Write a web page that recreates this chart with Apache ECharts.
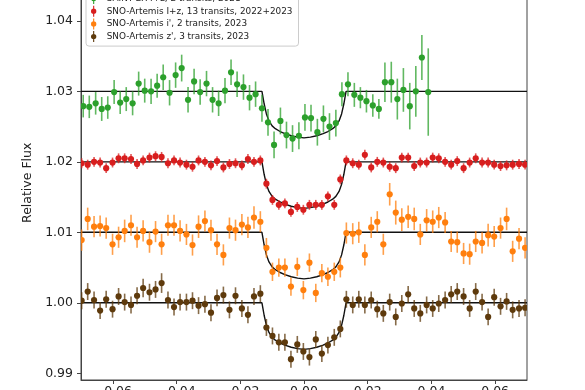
<!DOCTYPE html>
<html><head><meta charset="utf-8">
<script src="https://cdn.jsdelivr.net/npm/echarts@6/dist/echarts.min.js"></script>
<style>html,body{margin:0;padding:0;background:#fff}#c{width:585px;height:390px}</style>
</head><body><div id="c"></div>
<script>
const seriesNames = [
  "SAINT-EX I+z, 2 transits, 2021",
  "SNO-Artemis I+z, 13 transits, 2022+2023",
  "SNO-Artemis i', 2 transits, 2023",
  "SNO-Artemis z', 3 transits, 2023"
];
const xTicks = [-0.06, -0.04, -0.02, 0.00, 0.02, 0.04, 0.06];
const yTicks = [0.99, 1.00, 1.01, 1.02, 1.03, 1.04];

const xGreen = [-0.0693,-0.0674,-0.0654,-0.0635,-0.0616,-0.0596,-0.0577,-0.0558,-0.0538,-0.0519,
 -0.0500,-0.0480,-0.0461,-0.0442,-0.0422,-0.0403,-0.0384,-0.0364,-0.0345,-0.0326,
 -0.0306,-0.0287,-0.0268,-0.0248,-0.0229,-0.0210,-0.0190,-0.0171,-0.0152,-0.0132,
 -0.0113,-0.0094,-0.0074,-0.0055,-0.0036,-0.0016,0.0003,0.0022,0.0042,0.0061,
 0.0080,0.0100,0.0119,0.0138,0.0158,0.0177,0.0196,0.0216,0.0235,0.0254,
 0.0274,0.0293,0.0312,0.0332,0.0351,0.0370,0.0390];
const fluxGreen = [1.0279,1.0278,1.0283,1.0275,1.0277,1.0299,1.0284,1.0289,1.0283,1.0311,
 1.0301,1.0300,1.0308,1.0320,1.0298,1.0323,1.0333,1.0288,1.0314,1.0299,
 1.0311,1.0288,1.0283,1.0301,1.0327,1.0310,1.0306,1.0291,1.0296,1.0276,
 1.0256,1.0224,1.0258,1.0238,1.0233,1.0237,1.0263,1.0262,1.0242,1.0261,
 1.0250,1.0255,1.0296,1.0310,1.0295,1.0291,1.0286,1.0280,1.0275,1.0313,
 1.0313,1.0289,1.0302,1.0279,1.0300,1.0348,1.0299];
const errGreen = [0.0016,0.0016,0.0016,0.0017,0.0016,0.0017,0.0016,0.0017,0.0017,0.0017,
 0.0017,0.0018,0.0017,0.0018,0.0018,0.0018,0.0019,0.0018,0.0018,0.0018,
 0.0018,0.0018,0.0018,0.0018,0.0018,0.0018,0.0018,0.0018,0.0018,0.0019,
 0.0019,0.0019,0.0019,0.0019,0.0019,0.0019,0.0019,0.0019,0.0019,0.0019,
 0.0019,0.0019,0.0017,0.0017,0.0017,0.0015,0.0016,0.0016,0.0014,0.0028,
 0.0029,0.0029,0.0031,0.0033,0.0036,0.0032,0.0062];

const xBins = [-0.0698,-0.0679,-0.0659,-0.0640,-0.0621,-0.0601,-0.0582,-0.0563,-0.0543,-0.0524,
 -0.0505,-0.0485,-0.0466,-0.0447,-0.0427,-0.0408,-0.0389,-0.0369,-0.0350,-0.0331,
 -0.0311,-0.0292,-0.0273,-0.0253,-0.0234,-0.0215,-0.0195,-0.0176,-0.0157,-0.0137,
 -0.0118,-0.0099,-0.0079,-0.0060,-0.0041,-0.0021,-0.0002,0.0017,0.0037,0.0056,
 0.0075,0.0095,0.0114,0.0133,0.0153,0.0172,0.0191,0.0211,0.0230,0.0249,
 0.0269,0.0288,0.0307,0.0327,0.0346,0.0365,0.0385,0.0404,0.0423,0.0443,
 0.0462,0.0481,0.0501,0.0520,0.0539,0.0559,0.0578,0.0597,0.0617,0.0636,
 0.0655,0.0675,0.0694];

const fluxRed = [1.0198,1.0196,1.0200,1.0199,1.0191,1.0199,1.0205,1.0205,1.0204,1.0197,
 1.0202,1.0206,1.0208,1.0207,1.0198,1.0202,1.0199,1.0196,1.0193,1.0202,
 1.0200,1.0195,1.0201,1.0192,1.0197,1.0198,1.0195,1.0204,1.0200,1.0202,
 1.0169,1.0146,1.0139,1.0141,1.0129,1.0136,1.0132,1.0139,1.0139,1.0139,
 1.0151,1.0139,1.0175,1.0202,1.0198,1.0196,1.0210,1.0192,1.0200,1.0199,
 1.0193,1.0191,1.0206,1.0206,1.0194,1.0199,1.0199,1.0206,1.0205,1.0200,
 1.0196,1.0201,1.0191,1.0199,1.0205,1.0199,1.0199,1.0196,1.0194,1.0195,
 1.0196,1.0197,1.0196];
const errRed = [0.0007,0.0007,0.0007,0.0007,0.0007,0.0007,0.0007,0.0007,0.0007,0.0007,
 0.0007,0.0007,0.0007,0.0007,0.0007,0.0007,0.0007,0.0007,0.0007,0.0007,
 0.0007,0.0007,0.0007,0.0007,0.0007,0.0007,0.0007,0.0007,0.0007,0.0007,
 0.0007,0.0007,0.0007,0.0007,0.0007,0.0007,0.0007,0.0007,0.0007,0.0007,
 0.0007,0.0007,0.0007,0.0007,0.0007,0.0007,0.0007,0.0007,0.0007,0.0007,
 0.0007,0.0007,0.0007,0.0007,0.0007,0.0007,0.0007,0.0007,0.0007,0.0007,
 0.0007,0.0007,0.0007,0.0007,0.0007,0.0007,0.0007,0.0007,0.0007,0.0007,
 0.0007,0.0007,0.0007];

const fluxOrange = [1.0089,1.0119,1.0108,1.0109,1.0106,1.0083,1.0093,1.0102,1.0110,1.0093,
 1.0102,1.0086,1.0101,1.0083,1.0110,1.0110,1.0102,1.0097,1.0082,1.0108,
 1.0116,1.0103,1.0083,1.0068,1.0106,1.0103,1.0111,1.0107,1.0121,1.0115,
 1.0078,1.0044,1.0050,1.0050,1.0023,1.0051,1.0018,1.0057,1.0014,1.0042,
 1.0037,1.0044,1.0050,1.0099,1.0098,1.0100,1.0068,1.0107,1.0115,1.0083,
 1.0154,1.0128,1.0118,1.0122,1.0119,1.0097,1.0117,1.0115,1.0121,1.0114,
 1.0087,1.0086,1.0070,1.0069,1.0087,1.0085,1.0096,1.0094,1.0106,1.0119,
 1.0073,1.0091,1.0078];
const errOrange = [0.0015,0.0016,0.0015,0.0015,0.0015,0.0015,0.0015,0.0016,0.0015,0.0015,
 0.0015,0.0015,0.0015,0.0015,0.0015,0.0015,0.0015,0.0015,0.0015,0.0016,
 0.0015,0.0015,0.0015,0.0015,0.0015,0.0015,0.0015,0.0015,0.0016,0.0015,
 0.0014,0.0013,0.0013,0.0013,0.0013,0.0013,0.0013,0.0013,0.0013,0.0013,
 0.0013,0.0013,0.0014,0.0015,0.0015,0.0015,0.0015,0.0015,0.0015,0.0015,
 0.0016,0.0017,0.0016,0.0016,0.0016,0.0015,0.0016,0.0016,0.0015,0.0015,
 0.0015,0.0015,0.0015,0.0015,0.0015,0.0015,0.0016,0.0015,0.0015,0.0016,
 0.0015,0.0015,0.0015];

const fluxBrown = [1.0003,1.0016,1.0004,0.9989,1.0005,0.9991,1.0009,1.0001,0.9997,1.0010,
 1.0021,1.0015,1.0019,1.0028,1.0004,0.9994,1.0001,1.0001,1.0003,0.9996,
 0.9998,0.9986,1.0007,1.0011,0.9990,1.0010,0.9992,0.9983,1.0009,1.0013,
 0.9965,0.9953,0.9944,0.9944,0.9920,0.9941,0.9931,0.9923,0.9948,0.9928,
 0.9940,0.9951,0.9963,1.0005,0.9997,1.0005,0.9997,1.0004,0.9991,0.9985,
 1.0001,0.9980,0.9999,1.0012,0.9992,0.9985,0.9997,0.9992,0.9999,1.0004,
 1.0012,1.0016,1.0009,0.9992,1.0016,1.0001,0.9980,1.0008,0.9995,1.0002,
 0.9990,0.9992,0.9993];
const errBrown = [0.0012,0.0012,0.0012,0.0012,0.0012,0.0012,0.0012,0.0012,0.0012,0.0012,
 0.0013,0.0012,0.0012,0.0014,0.0012,0.0012,0.0012,0.0012,0.0012,0.0012,
 0.0012,0.0012,0.0012,0.0012,0.0012,0.0012,0.0012,0.0012,0.0012,0.0012,
 0.0012,0.0012,0.0012,0.0012,0.0012,0.0012,0.0012,0.0012,0.0012,0.0012,
 0.0012,0.0012,0.0012,0.0012,0.0012,0.0012,0.0012,0.0012,0.0012,0.0012,
 0.0012,0.0012,0.0012,0.0012,0.0012,0.0012,0.0012,0.0012,0.0012,0.0012,
 0.0012,0.0012,0.0012,0.0012,0.0012,0.0012,0.0012,0.0012,0.0012,0.0012,
 0.0012,0.0012,0.0012];

// transit model curves
const modelX = [-0.07,-0.0132,-0.0125,-0.0118,-0.0110,-0.0100,-0.0090,-0.0075,-0.0060,-0.0040,-0.0020,0.0,
  0.0020,0.0040,0.0060,0.0075,0.0090,0.0100,0.0110,0.0118,0.0125,0.0132,0.07];
const modelGreen = [1.0300,1.0300,1.0282,1.0268,1.0258,1.0251,1.0247,1.0243,1.0240,1.0237,1.0235,1.0234,
  1.0235,1.0237,1.0240,1.0243,1.0247,1.0251,1.0258,1.0268,1.0282,1.0300,1.0300];
const modelRed = [1.0200,1.0200,1.0182,1.0168,1.0158,1.0151,1.0147,1.0143,1.0140,1.0137,1.0135,1.0134,
  1.0135,1.0137,1.0140,1.0143,1.0147,1.0151,1.0158,1.0168,1.0182,1.0200,1.0200];
const modelOrange = [1.0100,1.0100,1.0082,1.0068,1.0058,1.0051,1.0047,1.0043,1.0040,1.0037,1.0035,1.0034,
  1.0035,1.0037,1.0040,1.0043,1.0047,1.0051,1.0058,1.0068,1.0082,1.0100,1.0100];
const modelBrown = [1.0000,1.0000,0.9982,0.9968,0.9958,0.9951,0.9947,0.9943,0.9940,0.9937,0.9935,0.9934,
  0.9935,0.9937,0.9940,0.9943,0.9947,0.9951,0.9958,0.9968,0.9982,1.0000,1.0000];

const colors = ['#2ca02c', '#d81e1e', '#ff7f0e', '#5e3a0c'];

function pointSeries(name, xs, ys, es, color) {
  return {
    name: name, type: 'custom', clip: true, z: 3,
    itemStyle: { color: color },
    encode: { x: 0, y: 1 },
    data: xs.map((x, i) => [x, ys[i], es[i]]),
    renderItem: function (params, api) {
      const x = api.value(0), y = api.value(1), e = api.value(2);
      const p = api.coord([x, y]);
      const top = api.coord([x, y + e]);
      const bot = api.coord([x, y - e]);
      return {
        type: 'group',
        children: [
          { type: 'line', shape: { x1: p[0], y1: top[1], x2: p[0], y2: bot[1] },
            style: { stroke: color, lineWidth: 1.6, opacity: 0.75 } },
          { type: 'circle', shape: { cx: p[0], cy: p[1], r: 3.1 },
            style: { fill: color } }
        ]
      };
    }
  };
}
function modelSeries(ys) {
  return {
    type: 'line', silent: true, z: 2, showSymbol: false, symbol: 'none',
    data: modelX.map((x, i) => [x, ys[i]]),
    lineStyle: { color: '#111', width: 1.4 }
  };
}

const chart = echarts.init(document.getElementById('c'), null, { renderer: 'canvas' });
const axisColor = '#444';
chart.setOption({
  animation: false,
  backgroundColor: '#fff',
  grid: { left: 81, right: 58, top: -14.4, bottom: 10, show: true, borderColor: axisColor, borderWidth: 1,
    backgroundColor: 'transparent', containLabel: false, outerBoundsMode: 'none' },
  xAxis: {
    type: 'value', min: -0.07, max: 0.07,
    axisLine: { show: true, onZero: false, lineStyle: { color: axisColor, width: 1 } },
    axisTick: { show: true, length: 4, customValues: xTicks, lineStyle: { color: axisColor } },
    axisLabel: { customValues: xTicks, margin: 5, fontSize: 12.5, color: '#222', fontFamily: 'DejaVu Sans',
      formatter: v => v.toFixed(2).replace('-', '\u2212') },
    splitLine: { show: false }
  },
  yAxis: {
    type: 'value', min: 0.98905, max: 1.045,
    name: 'Relative Flux', nameLocation: 'middle', nameGap: 34,
    nameTextStyle: { fontSize: 12.5, color: '#222', fontFamily: 'DejaVu Sans' },
    axisLine: { show: true, onZero: false, lineStyle: { color: axisColor, width: 1 } },
    axisTick: { show: true, length: 4, customValues: yTicks, lineStyle: { color: axisColor } },
    axisLabel: { customValues: yTicks, margin: 8, fontSize: 12.5, color: '#222', fontFamily: 'DejaVu Sans',
      formatter: v => v.toFixed(2) },
    splitLine: { show: false }
  },
  legend: {
    data: seriesNames, orient: 'vertical', left: 86, top: -12, selectedMode: false,
    padding: [5, 6, 4, 5], itemGap: 1.7, itemWidth: 16, itemHeight: 11,
    icon: 'path://M4.3,0H5.7V14H4.3Z M5,3.6A3.4,3.4 0 1,1 4.99,3.6Z',
    backgroundColor: '#fff', borderColor: '#cccccc', borderWidth: 1, borderRadius: 3,
    textStyle: { fontSize: 8.9, lineHeight: 11, color: '#222', fontFamily: 'DejaVu Sans' }
  },
  series: [
    pointSeries(seriesNames[0], xGreen, fluxGreen, errGreen, colors[0]),
    pointSeries(seriesNames[1], xBins, fluxRed, errRed, colors[1]),
    pointSeries(seriesNames[2], xBins, fluxOrange, errOrange, colors[2]),
    pointSeries(seriesNames[3], xBins, fluxBrown, errBrown, colors[3]),
    modelSeries(modelGreen),
    modelSeries(modelRed),
    modelSeries(modelOrange),
    modelSeries(modelBrown)
  ]
});
</script></body></html>
